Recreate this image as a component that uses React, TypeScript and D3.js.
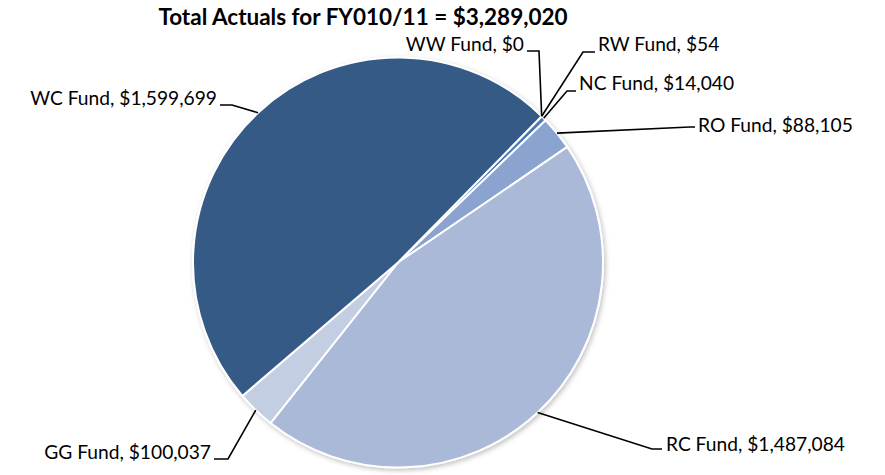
import React from 'react';
import * as d3 from 'd3';

const funds = ['WW Fund', 'RW Fund', 'NC Fund', 'RO Fund', 'RC Fund', 'GG Fund', 'WC Fund'];
const amounts = [0, 54, 14040, 88105, 1487084, 100037, 1599699];
const sliceColors = ['#4f81bd', '#4f81bd', '#4a7ab8', '#8ba4cf', '#a9b9d7', '#c4cee2', '#365a86'];
const titleText = 'Total Actuals for FY010/11 = $3,289,020';

// where each label sits: elbow of the leader line, end of the short tail, text anchor
const labelLayout = [
  { elbow: [539, 51], tail: [527, 51], text: [524, 46], anchor: 'end' },
  { elbow: [583, 52], tail: [595, 52], text: [598, 46], anchor: 'start' },
  { elbow: [567, 91], tail: [576, 91], text: [579, 85], anchor: 'start' },
  { elbow: [690, 127], tail: [695, 127], text: [698, 127], anchor: 'start' },
  { elbow: [652, 449], tail: [662, 449], text: [666, 446], anchor: 'start' },
  { elbow: [228, 459], tail: [214, 459], text: [211, 454], anchor: 'end' },
  { elbow: [232, 105], tail: [220, 105], text: [217, 100], anchor: 'end' },
];

const width = 885;
const height = 475;
const cx = 398;
const cy = 262.5;
const radius = 205;
const startDeg = 44.5;

const fmt = d3.format('$,');

export default function App() {
  const a0 = (startDeg * Math.PI) / 180;
  const pie = d3.pie<number>().sort(null).startAngle(a0).endAngle(a0 + 2 * Math.PI);
  const slices = pie(amounts);
  const arc = d3.arc<d3.PieArcDatum<number>>().innerRadius(0).outerRadius(radius);
  const edge = d3.arc<d3.PieArcDatum<number>>().innerRadius(radius).outerRadius(radius);

  return (
    <div style={{ position: 'absolute', left: 0, top: 0 }}>
      <svg width={width} height={height} style={{ display: 'block', fontFamily: 'Lato, sans-serif' }}>
        <defs>
          <filter id="shadow" x="-10%" y="-10%" width="120%" height="120%">
            <feDropShadow dx="1.5" dy="2" stdDeviation="2.5" floodColor="#000" floodOpacity="0.25" />
          </filter>
        </defs>
        <text x={363} y={25} textAnchor="middle" fontWeight="bold" fontSize={22.5} fill="#000">
          {titleText}
        </text>
        <g transform={`translate(${cx},${cy})`} filter="url(#shadow)">
          {slices.map((s, i) => (
            <path key={funds[i]} d={arc(s) || ''} fill={sliceColors[i]} stroke="#fff" strokeWidth={2} strokeLinejoin="round" />
          ))}
        </g>
        {slices.map((s, i) => {
          const [ex, ey] = edge.centroid(s);
          const l = labelLayout[i];
          const pts = [[cx + ex, cy + ey], l.elbow, l.tail];
          return (
            <g key={funds[i]}>
              <path d={d3.line()(pts as [number, number][]) || ''} fill="none" stroke="#000" strokeWidth={1.6} />
              <text x={l.text[0]} y={l.text[1]} textAnchor={l.anchor} dominantBaseline="middle" fontSize={19.2} fill="#000">
                {`${funds[i]}, ${fmt(amounts[i])}`}
              </text>
            </g>
          );
        })}
      </svg>
    </div>
  );
}
